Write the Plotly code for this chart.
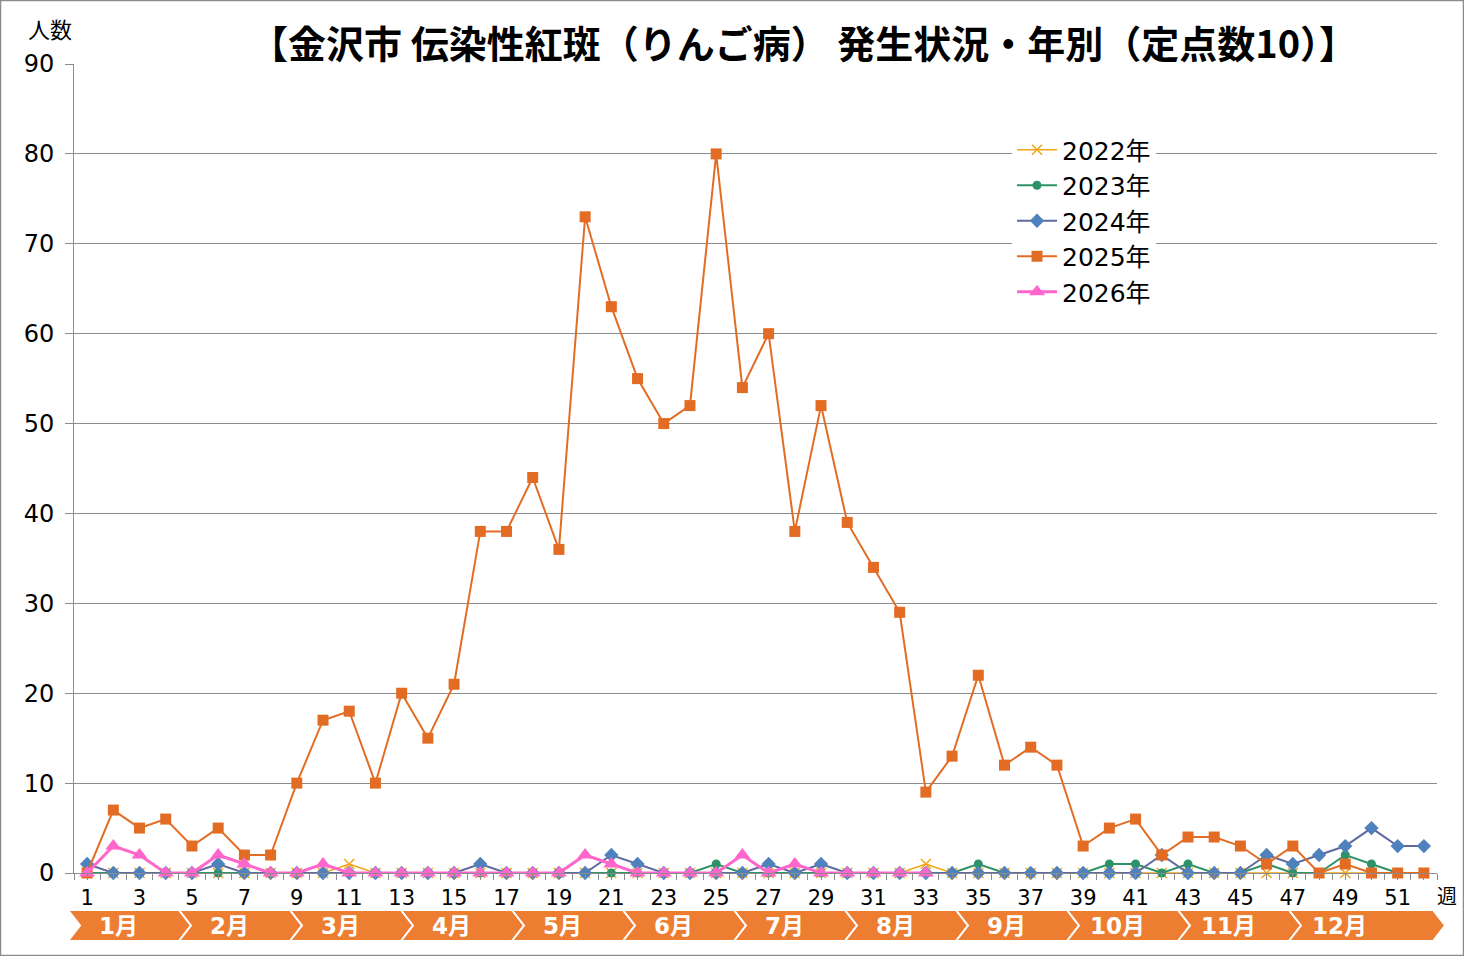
import plotly.graph_objects as go

# 週番号
weeks = list(range(1, 53))
tick_weeks = list(range(1, 53, 2))
months = ["1月", "2月", "3月", "4月", "5月", "6月", "7月", "8月", "9月", "10月", "11月", "12月"]

# 年別の患者数
cases_2022 = [0, 0, 0, 0, 0, 0, 0, 0, 0, 0, 1, 0, 0, 0, 0, 0, 0, 0, 0, 0,
              0, 0, 0, 0, 0, 0, 0, 0, 0, 0, 0, 0, 1, 0, 0, 0, 0, 0, 0, 0,
              0, 0, 0, 0, 0, 0, 0, 0, 0, 0, 0, 0]
cases_2023 = [0, 0, 0, 0, 0, 0, 0, 0, 0, 0, 0, 0, 0, 0, 0, 0, 0, 0, 0, 0,
              0, 0, 0, 0, 1, 0, 0, 0, 0, 0, 0, 0, 0, 0, 1, 0, 0, 0, 0, 1,
              1, 0, 1, 0, 0, 1, 0, 0, 2, 1, 0, 0]
cases_2024 = [1, 0, 0, 0, 0, 1, 0, 0, 0, 0, 0, 0, 0, 0, 0, 1, 0, 0, 0, 0,
              2, 1, 0, 0, 0, 0, 1, 0, 1, 0, 0, 0, 0, 0, 0, 0, 0, 0, 0, 0,
              0, 2, 0, 0, 0, 2, 1, 2, 3, 5, 3, 3]
cases_2025 = [0, 7, 5, 6, 3, 5, 2, 2, 10, 17, 18, 10, 20, 15, 21, 38, 38, 44, 36, 73,
              63, 55, 50, 52, 80, 54, 60, 38, 52, 39, 34, 29, 9, 13, 22, 12, 14, 12, 3, 5,
              6, 2, 4, 4, 3, 1, 3, 0, 1, 0, 0, 0]
cases_2026 = [0, 3, 2, 0, 0, 2, 1, 0, 0, 1, 0, 0, 0, 0, 0, 0, 0, 0, 0, 2,
              1, 0, 0, 0, 0, 2, 0, 1, 0, 0, 0, 0, 0]

JP = "Noto Sans CJK JP"
NUM = "DejaVu Sans, Noto Sans CJK JP"
W, H = 1464, 956
ML, MR, MT, MB = 74, 27, 64, 83
PW, PH = W - ML - MR, H - MT - MB


def px_x(p):
    return (p - ML) / PW


def px_y(p):
    return (H - MB - p) / PH


series = [
    ("2022年", cases_2022, "#F2A51A", "#F2A51A", "x-thin", 10, 1.6),
    ("2023年", cases_2023, "#2E9268", "#2E9268", "circle", 9, 2),
    ("2024年", cases_2024, "#5E6AA0", "#4F81BD", "diamond", 11, 2),
    ("2025年", cases_2025, "#E36C24", "#E36C24", "square", 11, 2),
    ("2026年", cases_2026, "#FF66CC", "#FF66CC", "triangle-up", 14, 3),
]

fig = go.Figure()
for name, vals, lc, mc, sym, size, lw in series:
    fig.add_trace(go.Scatter(
        x=weeks[:len(vals)], y=vals, name=name, mode="lines+markers", cliponaxis=False,
        line=dict(color=lc, width=lw),
        marker=dict(symbol=sym, size=size, color=mc,
                    line=dict(color=mc, width=1.5 if sym == "x-thin" else 0)),
    ))

shapes = []
annotations = []

# 月の矢印帯
band_l, band_r = 68, 1445
d = 12
seg = 111
top, bot = px_y(910), px_y(941)
mid = (top + bot) / 2
for i, m in enumerate(months):
    x0 = band_l + i * seg
    x1 = x0 + seg if i < 11 else band_r - d
    path = (f"M {px_x(x0)} {top} L {px_x(x1)} {top} L {px_x(x1 + d)} {mid} "
            f"L {px_x(x1)} {bot} L {px_x(x0)} {bot} L {px_x(x0 + d)} {mid} Z")
    shapes.append(dict(type="path", xref="paper", yref="paper", path=path, layer="below",
                       fillcolor="#ED7D31", line=dict(color="white", width=2)))
    annotations.append(dict(x=px_x(x0 + 50), y=mid, xref="paper", yref="paper",
                            xanchor="center", yanchor="middle", text=f"<b>{m}</b>", showarrow=False,
                            font=dict(family=NUM, size=23, color="white")))

# 外枠
shapes.append(dict(type="rect", xref="paper", yref="paper",
                   x0=px_x(0.5), x1=px_x(W - 0.5), y0=px_y(H - 0.5), y1=px_y(0.5),
                   line=dict(color="#8C8C8C", width=1.5), fillcolor="rgba(0,0,0,0)"))

annotations += [
    dict(x=px_x(803), y=px_y(41), xref="paper", yref="paper", showarrow=False,
         xanchor="center", yanchor="middle",
         text="<b>【金沢市 伝染性紅斑（りんご病） 発生状況・年別（定点数10）】</b>",
         font=dict(family=JP, size=38, color="black")),
    dict(x=px_x(50), y=px_y(28), xref="paper", yref="paper", showarrow=False,
         xanchor="center", yanchor="middle",
         text="人数", font=dict(family=JP, size=22, color="black")),
    dict(x=px_x(1447), y=px_y(895), xref="paper", yref="paper", showarrow=False,
         xanchor="center", yanchor="middle",
         text="週", font=dict(family=JP, size=20, color="black")),
]

fig.update_layout(
    width=W, height=H,
    margin=dict(l=ML, r=MR, t=MT, b=MB),
    paper_bgcolor="white", plot_bgcolor="white",
    font=dict(family=NUM, color="black"),
    showlegend=True,
    legend=dict(x=px_x(1012), y=px_y(127), xanchor="left", yanchor="top",
                bgcolor="white", font=dict(family=NUM, size=25, color="black"),
                tracegroupgap=0, itemwidth=40),
    xaxis=dict(range=[0.5, 52.5], tickvals=tick_weeks, ticktext=[str(w) for w in tick_weeks],
               showgrid=False, zeroline=False, showline=True, linecolor="#8C8C8C", linewidth=1,
               ticks="outside", ticklen=6, tickcolor="#8C8C8C",
               minor=dict(dtick=0.5, tick0=0.5, ticks="outside", ticklen=6, tickcolor="#8C8C8C"),
               tickfont=dict(family=NUM, size=21, color="black")),
    yaxis=dict(range=[0, 90], dtick=10, showgrid=True, gridcolor="#8C8C8C", gridwidth=1,
               zeroline=False, showline=True, linecolor="#8C8C8C", linewidth=1,
               ticks="outside", ticklen=8, tickcolor="#8C8C8C", ticklabelstandoff=6,
               tickfont=dict(family=NUM, size=24, color="black")),
    shapes=shapes,
    annotations=annotations,
)

fig.write_html("out.html", config={"displayModeBar": False},
               post_script="document.body.style.margin='0';")
